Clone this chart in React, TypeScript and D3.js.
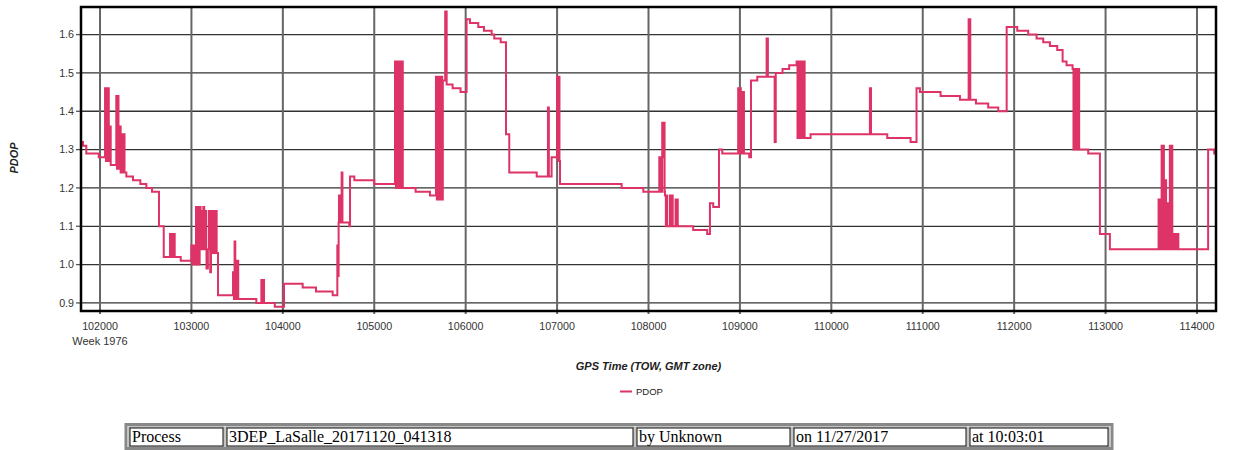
import React from 'react'
import * as d3 from 'd3'

// PDOP step series: [GPS time of week, PDOP]
const pdopSteps: [number, number][] = [
  [101792, 1.32], [101814, 1.31], [101850, 1.29], [101986, 1.28],
  [102055, 1.46], [102065, 1.27], [102072, 1.46], [102080, 1.27], [102088, 1.46], [102096, 1.36],
  [102104, 1.27], [102110, 1.36], [102117, 1.26],
  [102178, 1.44], [102186, 1.25], [102194, 1.44], [102202, 1.36], [102210, 1.25], [102218, 1.36],
  [102226, 1.24], [102240, 1.34], [102250, 1.24], [102258, 1.34], [102268, 1.24],
  [102288, 1.23], [102361, 1.22], [102441, 1.21], [102507, 1.2], [102569, 1.19], [102645, 1.1],
  [102697, 1.02], [102766, 1.08], [102776, 1.02], [102786, 1.08], [102796, 1.02], [102806, 1.08],
  [102817, 1.02], [102883, 1.01],
  [102999, 1.05], [103008, 1.0], [103016, 1.05], [103024, 1.0], [103032, 1.05], [103040, 1.0],
  [103050, 1.15], [103060, 1.0], [103070, 1.15], [103080, 1.0], [103090, 1.15], [103100, 1.04],
  [103110, 1.14], [103120, 1.04], [103130, 1.15], [103140, 1.04], [103150, 1.14], [103160, 1.04],
  [103165, 0.99], [103180, 1.04], [103190, 1.14], [103198, 1.04], [103206, 0.98], [103214, 1.04],
  [103220, 1.14], [103228, 1.03], [103236, 1.14], [103244, 1.03], [103252, 1.14], [103260, 1.03],
  [103268, 1.14], [103276, 1.03], [103291, 0.92],
  [103455, 0.98], [103465, 0.91], [103472, 1.06], [103480, 0.91], [103488, 1.01], [103496, 0.91],
  [103504, 1.01], [103512, 0.91], [103710, 0.9], [103765, 0.96], [103775, 0.9], [103782, 0.96],
  [103794, 0.9], [103912, 0.89], [104013, 0.95], [104217, 0.94], [104363, 0.93], [104545, 0.92],
  [104596, 1.05], [104604, 0.97], [104610, 1.11], [104614, 1.18], [104622, 1.11], [104643, 1.24],
  [104652, 1.11], [104727, 1.1], [104735, 1.23], [104782, 1.22], [105000, 1.21],
  [105227, 1.53], [105237, 1.2], [105247, 1.53], [105257, 1.2], [105267, 1.53], [105277, 1.2],
  [105287, 1.53], [105297, 1.2], [105307, 1.53], [105312, 1.2], [105452, 1.19], [105610, 1.18],
  [105675, 1.49], [105685, 1.17], [105695, 1.49], [105705, 1.17], [105715, 1.49], [105725, 1.17],
  [105735, 1.49], [105743, 1.17], [105750, 1.48], [105776, 1.66], [105792, 1.47], [105857, 1.46],
  [105944, 1.45], [106010, 1.64], [106047, 1.63], [106138, 1.62], [106200, 1.61], [106284, 1.6],
  [106313, 1.59], [106383, 1.58], [106441, 1.34], [106477, 1.24], [106777, 1.23], [106900, 1.41],
  [106910, 1.23], [106940, 1.28], [107000, 1.49], [107010, 1.27], [107018, 1.49], [107026, 1.27],
  [107032, 1.21], [107706, 1.2], [107943, 1.19],
  [108118, 1.28], [108128, 1.19], [108136, 1.28], [108144, 1.19], [108150, 1.37], [108160, 1.28],
  [108168, 1.37], [108176, 1.19], [108180, 1.18], [108190, 1.1], [108196, 1.18], [108205, 1.1],
  [108235, 1.18], [108245, 1.1], [108255, 1.18], [108265, 1.1], [108296, 1.17], [108306, 1.1],
  [108312, 1.17], [108320, 1.1], [108489, 1.09], [108642, 1.08], [108672, 1.16], [108708, 1.15],
  [108771, 1.3], [108807, 1.29],
  [108981, 1.46], [108991, 1.29], [109000, 1.46], [109010, 1.29], [109018, 1.45], [109026, 1.29],
  [109034, 1.45], [109044, 1.29], [109102, 1.28], [109121, 1.48], [109190, 1.49], [109292, 1.59],
  [109306, 1.49], [109380, 1.32], [109392, 1.5], [109466, 1.51], [109539, 1.52],
  [109620, 1.53], [109630, 1.33], [109640, 1.53], [109650, 1.33], [109660, 1.53], [109670, 1.33],
  [109680, 1.53], [109690, 1.33], [109700, 1.53], [109708, 1.33], [109773, 1.34],
  [110422, 1.46], [110434, 1.34], [110612, 1.33], [110867, 1.32], [110932, 1.46], [110969, 1.45],
  [111195, 1.44], [111407, 1.43], [111502, 1.64], [111520, 1.43], [111582, 1.42], [111716, 1.41],
  [111826, 1.4], [111918, 1.62], [112034, 1.61], [112154, 1.6], [112245, 1.59], [112318, 1.58],
  [112391, 1.57], [112471, 1.56], [112530, 1.53], [112573, 1.52],
  [112639, 1.51], [112649, 1.3], [112659, 1.51], [112669, 1.3], [112679, 1.51], [112689, 1.3],
  [112699, 1.51], [112711, 1.3], [112810, 1.29], [112938, 1.08], [113047, 1.04],
  [113580, 1.17], [113588, 1.04], [113596, 1.17], [113604, 1.04], [113613, 1.31], [113622, 1.04],
  [113630, 1.31], [113638, 1.22], [113646, 1.04], [113654, 1.22], [113662, 1.04], [113668, 1.16],
  [113676, 1.04], [113684, 1.16], [113692, 1.04], [113703, 1.31], [113712, 1.04], [113720, 1.31],
  [113730, 1.04], [113742, 1.08], [113752, 1.04], [113770, 1.08], [113780, 1.04], [113788, 1.08],
  [113796, 1.04], [114122, 1.3], [114188, 1.29], [114208, 1.29],
]

const xTicks = [102000, 103000, 104000, 105000, 106000, 107000, 108000, 109000, 110000, 111000, 112000, 113000, 114000]
const yTicks = [0.9, 1.0, 1.1, 1.2, 1.3, 1.4, 1.5, 1.6]
const xDomain: [number, number] = [101792, 114208]
const yDomain: [number, number] = [0.879, 1.672]

const weekLabel = 'Week 1976'
const xTitle = 'GPS Time (TOW, GMT zone)'
const yTitle = 'PDOP'
const seriesName = 'PDOP'

// footer table: [text, left edge, right edge]
const footerCells: [string, number, number][] = [
  ['Process', 129, 224],
  ['3DEP_LaSalle_20171120_041318', 226, 634],
  ['by Unknown', 636, 791],
  ['on 11/27/2017', 793, 967],
  ['at 10:03:01', 969, 1109],
]

const LINE = '#dd3366'
const SANS = '"Liberation Sans", Arial, sans-serif'
const SERIF = '"Liberation Serif", "Times New Roman", serif'

export default function App() {
  const W = 1234
  const H = 450
  const plot = { left: 81, right: 1216, top: 7, bottom: 311 }

  const x = d3.scaleLinear().domain(xDomain).range([plot.left, plot.right])
  const y = d3.scaleLinear().domain(yDomain).range([plot.bottom, plot.top])

  const line = d3.line<[number, number]>()
    .x(d => x(d[0]))
    .y(d => y(d[1]))
    .curve(d3.curveStepAfter)

  return (
    <div style={{ position: 'absolute', left: 0, top: 0 }}>
      <svg width={W} height={H} style={{ display: 'block', background: '#fff' }}>
        <defs>
          <clipPath id="plotClip">
            <rect x={plot.left} y={plot.top} width={plot.right - plot.left} height={plot.bottom - plot.top} />
          </clipPath>
        </defs>

        {/* horizontal grid + y ticks */}
        {yTicks.map(t => (
          <g key={'y' + t}>
            <line x1={plot.left} x2={plot.right} y1={y(t)} y2={y(t)} stroke="#333" strokeWidth={1.3} />
            <line x1={plot.left - 5} x2={plot.left} y1={y(t)} y2={y(t)} stroke="#555" strokeWidth={1.3} />
            <text x={plot.left - 7} y={y(t)} dy="0.36em" textAnchor="end"
              fontFamily={SANS} fontSize={10.7} fill="#333">{t.toFixed(1)}</text>
          </g>
        ))}

        {/* vertical grid + x ticks */}
        {xTicks.map(t => (
          <g key={'x' + t}>
            <line x1={x(t)} x2={x(t)} y1={plot.top} y2={plot.bottom + 3} stroke="#666" strokeWidth={2} />
            <text x={x(t)} y={330} textAnchor="middle"
              fontFamily={SANS} fontSize={10.7} fill="#333">{t}</text>
          </g>
        ))}
        <text x={x(xTicks[0])} y={344.5} textAnchor="middle" fontFamily={SANS} fontSize={11} fill="#333">{weekLabel}</text>

        {/* series */}
        <path d={line(pdopSteps) || ''} fill="none" stroke={LINE} strokeWidth={2}
          strokeLinejoin="miter" clipPath="url(#plotClip)" />

        {/* frame */}
        <rect x={plot.left} y={plot.top} width={plot.right - plot.left} height={plot.bottom - plot.top}
          fill="none" stroke="#000" strokeWidth={2.5} />

        {/* axis titles */}
        <text x={(plot.left + plot.right) / 2} y={370} textAnchor="middle" fontFamily={SANS}
          fontSize={11} fontWeight="bold" fontStyle="italic" fill="#222">{xTitle}</text>
        <text transform={`translate(18,${158}) rotate(-90)`} textAnchor="middle" fontFamily={SANS}
          fontSize={11} fontWeight="bold" fontStyle="italic" fill="#222">{yTitle}</text>

        {/* legend */}
        <line x1={620} x2={632} y1={391.5} y2={391.5} stroke={LINE} strokeWidth={2} />
        <text x={636} y={395} fontFamily={SANS} fontSize={9.5} fill="#222">{seriesName}</text>

        {/* footer table */}
        <rect x={126} y={424.5} width={986} height={24} fill="none" stroke="#888" strokeWidth={3} />
        {footerCells.map(([label, x0, x1]) => (
          <g key={label}>
            <rect x={x0} y={427} width={x1 - x0} height={20} fill="none" stroke="#888" strokeWidth={1} />
            <rect x={x0 + 1} y={428} width={x1 - x0 - 2} height={18} fill="none" stroke="#111" strokeWidth={1} />
            <text x={x0 + 3} y={442} fontFamily={SERIF} fontSize={16} fill="#000">{label}</text>
          </g>
        ))}
      </svg>
    </div>
  )
}
